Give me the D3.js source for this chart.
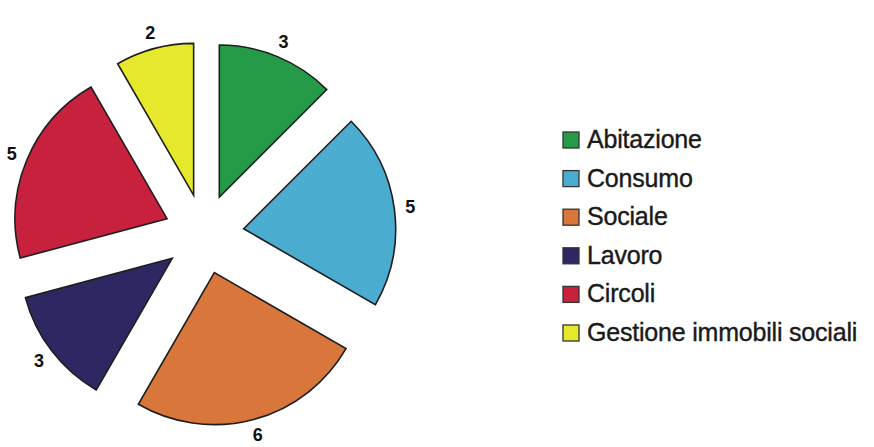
<!DOCTYPE html>
<html>
<head>
<meta charset="utf-8">
<script src="https://cdn.jsdelivr.net/npm/d3@7"></script>
<style>
  html, body { margin: 0; padding: 0; background: #fff; }
  svg { display: block; }
</style>
</head>
<body>
<svg id="chart" width="874" height="447"></svg>
<script>
const categories = ["Abitazione", "Consumo", "Sociale", "Lavoro", "Circoli", "Gestione immobili sociali"];
const values = [3, 5, 6, 3, 5, 2];
const colors = ["#259b48", "#4aadd0", "#d8763c", "#2e2862", "#c8213d", "#e6e82c"];

const W = 874, H = 447;
const CX = 204, CY = 234;
const RADIUS = 152, EXPLODE = 40, LABEL_R = 208;

let svg = d3.select('#chart');

let pie = d3.pie().sort(null).startAngle(0).endAngle(2 * Math.PI)(values);
let arc = d3.arc().innerRadius(0).outerRadius(RADIUS);

let g = svg.append('g').attr('transform', `translate(${CX},${CY})`);

// slices pushed out along their middle angle
g.selectAll('path.slice')
  .data(pie)
  .join('path')
  .attr('class', 'slice')
  .attr('d', arc)
  .attr('transform', d => {
    let a = (d.startAngle + d.endAngle) / 2;
    return `translate(${EXPLODE * Math.sin(a)},${-EXPLODE * Math.cos(a)})`;
  })
  .attr('fill', (d, i) => colors[i])
  .attr('stroke', '#1e1e1e')
  .attr('stroke-width', 1.6)
  .attr('stroke-linejoin', 'miter');

g.selectAll('text.val')
  .data(pie)
  .join('text')
  .attr('class', 'val')
  .attr('x', d => LABEL_R * Math.sin((d.startAngle + d.endAngle) / 2))
  .attr('y', d => -LABEL_R * Math.cos((d.startAngle + d.endAngle) / 2))
  .attr('text-anchor', 'middle')
  .attr('dominant-baseline', 'central')
  .style('font-family', 'Liberation Sans, Arial, sans-serif')
  .style('font-weight', 'bold')
  .style('font-size', '18px')
  .attr('fill', '#111')
  .text(d => d.data);

// legend
let legend = svg.append('g').attr('transform', 'translate(563,132)');
let row = legend.selectAll('g')
  .data(categories)
  .join('g')
  .attr('transform', (d, i) => `translate(0,${i * 38.6})`);

row.append('rect')
  .attr('width', 16)
  .attr('height', 16)
  .attr('fill', (d, i) => colors[i])
  .attr('stroke', '#333')
  .attr('stroke-width', 1.3);

row.append('text')
  .attr('x', 24)
  .attr('y', 16)
  .style('font-family', 'Liberation Sans, Arial, sans-serif')
  .style('font-size', '25px')
  .style('letter-spacing', '-0.2px')
  .attr('fill', '#1a1a1a')
  .attr('stroke', '#1a1a1a')
  .attr('stroke-width', 0.4)
  .text(d => d);
</script>
</body>
</html>
